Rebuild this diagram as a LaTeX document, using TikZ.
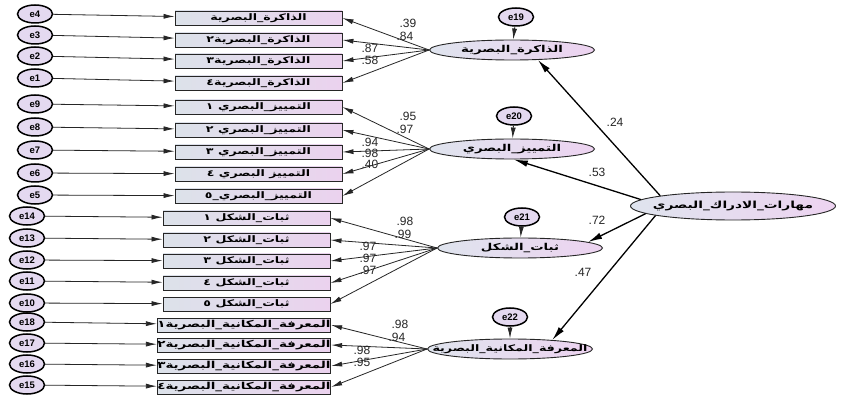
\documentclass[tikz,border=0pt]{standalone}
\usepackage{fontspec}
\setmainfont{Liberation Sans}
\newfontfamily\arabicfont[Script=Arabic,FakeStretch=1.4]{DejaVu Sans}
\TeXXeTstate=1
\usetikzlibrary{arrows.meta,shapes.geometric}

\definecolor{boxL}{HTML}{DCE2EA}
\definecolor{boxR}{HTML}{EBD2EE}
\definecolor{latL}{HTML}{DFE4EE}
\definecolor{latR}{HTML}{EDD3F0}
\definecolor{errfill}{HTML}{E4D9F0}

% Arabic text, set right to left
\newcommand{\artxt}[1]{{\arabicfont\beginR #1\endR}}

\tikzset{
  obsbox/.style={draw=black!85, line width=0.9pt, minimum width=167pt,
    minimum height=14pt, inner sep=0pt, left color=boxL, right color=boxR,
    font=\arabicfont\bfseries\fontsize{9}{10}\selectfont},
  widebox/.style={obsbox, font=\arabicfont\bfseries\fontsize{9.6}{10}\selectfont},
  latent/.style={ellipse, draw=black!85, line width=0.9pt, minimum width=165pt,
    minimum height=20pt, inner xsep=-30pt, inner ysep=0pt,
    left color=latL, right color=latR,
    font=\arabicfont\bfseries\fontsize{9.5}{10}\selectfont},
  errv/.style={ellipse, draw=black, line width=1.5pt, minimum width=35pt,
    minimum height=18pt, inner sep=0pt, fill=errfill,
    font=\bfseries\fontsize{9.5}{10}\selectfont},
  arr/.style={-{Latex[length=11pt,width=5pt]}, line width=0.8pt, draw=black!85},
  sarr/.style={-{Latex[length=14pt,width=6.5pt]}, line width=1.3pt, draw=black},
  coef/.style={font=\fontsize{12}{13}\selectfont, inner sep=0pt, text=black!85},
}

\begin{document}
\begin{tikzpicture}[x=1pt,y=-1pt]
\useasboundingbox[fill=white] (0,0) rectangle (841,398);

% ---- observed variables with their error terms
\foreach \e/\ex/\ey/\bx/\by/\st/\lab in {
  4/35/14/258.5/18/obsbox/{الذاكرة\_البصرية},
  3/35/35/258.5/40/obsbox/{الذاكرة\_البصرية٢},
  2/35/56/258.5/61/obsbox/{الذاكرة\_البصرية٣},
  1/35/78/258.5/83/obsbox/{الذاكرة\_البصرية٤},
  9/35/104/258.5/107/obsbox/{التمييز\_البصري ١},
  8/35/127/258.5/130/obsbox/{التمييز\_البصري ٢},
  7/35/150/258.5/152/obsbox/{التمييز\_البصري ٣},
  6/35/173/258.5/174/obsbox/{التمييز البصري ٤},
  5/35/195/258.5/196/obsbox/{التمييز\_البصري\_٥},
  14/27/216/246.5/218/obsbox/{ثبات\_الشكل ١},
  13/27/238/246.5/240/obsbox/{ثبات\_الشكل ٢},
  12/27/260/246.5/261/obsbox/{ثبات\_الشكل ٣},
  11/27/281/246.5/283/obsbox/{ثبات\_الشكل ٤},
  10/27/303/246.5/304/obsbox/{ثبات\_الشكل ٥},
  18/27/322/244/325/widebox/{المعرفة\_المكانية\_البصرية١},
  17/27/343/244/345/widebox/{المعرفة\_المكانية\_البصرية٢},
  16/27/364/244/366/widebox/{المعرفة\_المكانية\_البصرية٣},
  15/27/385/244/387/widebox/{المعرفة\_المكانية\_البصرية٤}}{
  \node[errv] (e\e) at (\ex,\ey) {e\e};
  \node[\st] (o\e) at (\bx,\by) {\artxt{\lab}};
  \draw[arr] (e\e) -- (o\e);
}

% ---- first-order latent factors
\node[latent] (L1) at (512,50)  {\artxt{الذاكرة\_البصرية}};
\node[latent] (L2) at (512,149) {\artxt{التمييز\_البصري}};
\node[latent] (L3) at (520,248) {\artxt{ثبات\_الشكل}};
\node[latent, font=\arabicfont\bfseries\fontsize{9}{10}\selectfont] (L4)
  at (510,349) {\artxt{المعرفة\_المكانية\_البصرية}};

% ---- second-order factor
\node[latent, minimum width=205pt, minimum height=28pt,
  font=\arabicfont\bfseries\fontsize{9.8}{10}\selectfont] (M) at (733,206)
  {\artxt{مهارات\_الادراك\_البصري}};

% ---- disturbances
\node[errv] (e19) at (516,17)  {e19};
\node[errv] (e20) at (514,116) {e20};
\node[errv] (e21) at (522,217) {e21};
\node[errv] (e22) at (510,317) {e22};
\foreach \d/\l in {19/L1,20/L2,21/L3,22/L4}
  \draw[arr] (e\d) -- (\l);

% ---- loadings
\foreach \o in {4,3,2,1} \draw[arr] (L1.west) -- (o\o.east);
\foreach \o in {9,8,7,6,5} \draw[arr] (L2.west) -- (o\o.east);
\foreach \o in {14,13,12,11,10} \draw[arr] (L3.west) -- (o\o.east);
\foreach \o in {18,17,16,15} \draw[arr] (L4.west) -- (o\o.east);

\node[coef] (c4) at (408,23) {.39};
\node[coef] (c3) at (405,36) {.84};
\node[coef] (c2) at (370,48) {.87};
\node[coef] (c1) at (370,60) {.58};

\node[coef] (c9) at (408,116) {.95};
\node[coef] (c8) at (405,129) {.97};
\node[coef] (c7) at (370,142) {.94};
\node[coef] (c6) at (370,153) {.98};
\node[coef] (c5) at (370,164) {.40};

\node[coef] (c14) at (405,221) {.98};
\node[coef] (c13) at (403,234) {.99};
\node[coef] (c12) at (368,246) {.97};
\node[coef] (c11) at (368,258) {.97};
\node[coef] (c10) at (368,270) {.97};

\node[coef] (c18) at (400,324) {.98};
\node[coef] (c17) at (397,337) {.94};
\node[coef] (c16) at (362,350) {.98};
\node[coef] (c15) at (362,362) {.95};

% ---- structural paths
\draw[sarr] (M.172) -- (L1.-21);
\draw[sarr] (M.176) -- (L2.-80);
\draw[sarr] (M.185) -- (L3.5);
\draw[sarr] (M.187) -- (L4.12);

\node[coef] (s1) at (615,122) {.24};
\node[coef] (s2) at (597,172) {.53};
\node[coef] (s3) at (597,220) {.72};
\node[coef] (s4) at (583,272) {.47};
\end{tikzpicture}
\end{document}
